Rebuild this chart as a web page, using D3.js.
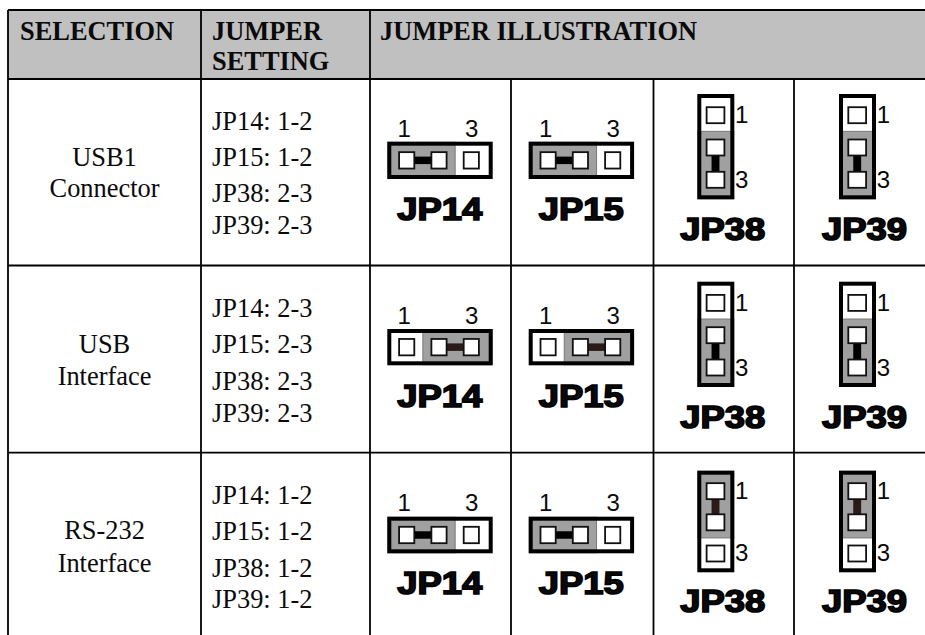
<!DOCTYPE html>
<html>
<head>
<meta charset="utf-8">
<title>Jumper settings</title>
<script src="https://cdnjs.cloudflare.com/ajax/libs/d3/7.8.5/d3.min.js"></script>
<style>
  html, body { margin: 0; padding: 0; background: #fff; overflow: hidden; }
  svg { display: block; }
  .serif { font-family: "Liberation Serif", serif; fill: #0a0a0a; }
  .sans { font-family: "Liberation Sans", sans-serif; fill: #0a0a0a; }
</style>
</head>
<body>
<div id="chart"></div>
<script>
// table content
const headers = ["SELECTION", ["JUMPER", "SETTING"], "JUMPER ILLUSTRATION"];
const selections = [["USB1", "Connector"], ["USB", "Interface"], ["RS-232", "Interface"]];
const jumperNames = ["JP14", "JP15", "JP38", "JP39"];
const jumperOrient = ["h", "h", "v", "v"];
const rowSettings = [
  ["1-2", "1-2", "2-3", "2-3"],
  ["2-3", "2-3", "2-3", "2-3"],
  ["1-2", "1-2", "1-2", "1-2"]
];
const pins = [1, 2, 3];

const width = 925, height = 635;
const svg = d3.select("#chart").append("svg")
  .attr("width", width)
  .attr("height", height);

const colEdges = [8, 201, 370, 511, 653.5, 794];
const rowEdges = [10, 79, 265.5, 452.7];
const settingBase = [[130, 165.7, 202.3, 234.3], [317.3, 353.3, 390, 421.7], [504.3, 540, 576.7, 608.3]];
const selectionBase = [[166, 197.3], [352.7, 385], [539.3, 571.7]];
const hBox = [{top: 141.7, h: 37.3, num: 136.7, name: 220}, {top: 329, h: 36.3, num: 324, name: 406.7}, {top: 516.7, h: 36.6, num: 511, name: 594.3}];
const vBox = [{top: 94, h: 105.3, name: 240}, {top: 281.7, h: 105.3, name: 428.3}, {top: 470.7, h: 101.6, name: 612.3}];
const boxLeft = [387.3, 528.7, 697.3, 839];

const gridColor = "#000";
const grey = "#a0a0a0";
const headGrey = "#c0c0c0";
const shortThick = 7.5;
const textSize = 26.4;

svg.append("rect")
  .attr("x", colEdges[0]).attr("y", rowEdges[0])
  .attr("width", width - colEdges[0]).attr("height", rowEdges[1] - rowEdges[0])
  .attr("fill", headGrey);

// grid lines
svg.selectAll(".hline").data(rowEdges).enter().append("line")
  .attr("x1", colEdges[0]).attr("x2", width)
  .attr("y1", d => d).attr("y2", d => d)
  .attr("stroke", gridColor).attr("stroke-width", 1.8);

svg.selectAll(".vline").data(colEdges).enter().append("line")
  .attr("x1", d => d).attr("x2", d => d)
  .attr("y1", (d, i) => i < 3 ? rowEdges[0] : rowEdges[1])
  .attr("y2", height)
  .attr("stroke", gridColor).attr("stroke-width", 1.8);

// header text
const head = svg.append("g").attr("class", "serif")
  .attr("font-size", textSize).attr("font-weight", "bold");
head.append("text").attr("x", 20).attr("y", 39.5).text(headers[0]);
head.selectAll(".h2").data(headers[1]).enter().append("text")
  .attr("x", 212).attr("y", (d, i) => i === 0 ? 39.5 : 70).text(d => d);
head.append("text").attr("x", 380).attr("y", 39.5).text(headers[2]);

selections.forEach((sel, r) => {
  svg.append("g").attr("class", "serif").attr("font-size", textSize)
    .attr("text-anchor", "middle")
    .selectAll("text").data(sel).enter().append("text")
    .attr("x", 104.5)
    .attr("y", (d, i) => selectionBase[r][i])
    .text(d => d);

  svg.append("g").attr("class", "serif").attr("font-size", textSize)
    .selectAll("text").data(rowSettings[r]).enter().append("text")
    .attr("x", 212)
    .attr("y", (d, i) => settingBase[r][i])
    .text((d, i) => jumperNames[i] + ": " + d);

  jumperNames.forEach((name, j) => {
    if (jumperOrient[j] === "h") drawH(r, j, name, rowSettings[r][j]);
    else drawV(r, j, name, rowSettings[r][j]);
  });
});

function shortColor(r, orient) {
  // the scan has the link a bit brown in some of the cells
  return (orient === "h" && r === 1) || (orient === "v" && r === 2) ? "#2a1a18" : "#000";
}

function shorted(setting) {
  return setting.split("-").map(Number);
}

function drawBody(g, x, y, w, h, greyRect) {
  g.append("rect").attr("x", x).attr("y", y).attr("width", w).attr("height", h)
    .attr("fill", "#fff");
  g.append("rect").attr("x", greyRect.x).attr("y", greyRect.y)
    .attr("width", greyRect.w).attr("height", greyRect.h)
    .attr("fill", grey);
}

function heavyLabel(g, name, cx, base) {
  g.append("text")
    .attr("class", "sans")
    .attr("x", cx).attr("y", base)
    .attr("text-anchor", "middle")
    .attr("font-size", 31).attr("font-weight", "bold")
    .attr("stroke", "#000").attr("stroke-width", 1.6)
    .attr("textLength", 85).attr("lengthAdjust", "spacingAndGlyphs")
    .text(name);
}

function drawH(r, j, name, setting) {
  const b = hBox[r], x0 = boxLeft[j], w = 105.4;
  const g = svg.append("g");
  const px = d3.scalePoint().domain(pins).range([x0 + 19.4, x0 + 84]);
  const on = shorted(setting);
  const off = pins.find(p => !on.includes(p));
  const split = (px(2) + px(off)) / 2;
  const gr = off === 3
    ? {x: x0, y: b.top, w: split - x0, h: b.h}
    : {x: split, y: b.top, w: x0 + w - split, h: b.h};
  drawBody(g, x0, b.top, w, b.h, gr);
  g.append("line").attr("x1", split).attr("x2", split)
    .attr("y1", b.top).attr("y2", b.top + b.h)
    .attr("stroke", "#777").attr("stroke-width", 1);
  g.append("rect").attr("x", x0 + 2).attr("y", b.top + 2)
    .attr("width", w - 4).attr("height", b.h - 4)
    .attr("fill", "none").attr("stroke", "#000").attr("stroke-width", 4);
  const py = b.top + b.h / 2;
  g.append("rect")
    .attr("x", px(on[0])).attr("width", px(on[1]) - px(on[0]))
    .attr("y", py - shortThick / 2).attr("height", shortThick)
    .attr("fill", shortColor(r, "h"));
  g.selectAll(".pin").data(pins).enter().append("rect")
    .attr("x", d => px(d) - 7.6).attr("y", py - 8.2)
    .attr("width", 15.2).attr("height", 16.4)
    .attr("fill", "#fff").attr("stroke", "#111").attr("stroke-width", 1.8);
  g.selectAll(".num").data([1, 3]).enter().append("text")
    .attr("class", "sans")
    .attr("x", d => px(d) + (d === 1 ? -2.5 : 0.4)).attr("y", b.num)
    .attr("text-anchor", "middle").attr("font-size", 24)
    .text(d => d);
  heavyLabel(g, name, x0 + 52.5, b.name);
}

function drawV(r, j, name, setting) {
  const b = vBox[r], x0 = boxLeft[j], w = 37;
  const g = svg.append("g");
  const scaleH = b.h / 105.3;
  const py = d3.scalePoint().domain(pins).range([b.top + 21.2 * scaleH, b.top + 85.8 * scaleH]);
  const on = shorted(setting);
  const off = pins.find(p => !on.includes(p));
  const split = (py(2) + py(off)) / 2;
  const gr = off === 1
    ? {x: x0, y: split, w: w, h: b.top + b.h - split}
    : {x: x0, y: b.top, w: w, h: split - b.top};
  drawBody(g, x0, b.top, w, b.h, gr);
  g.append("line").attr("y1", split).attr("y2", split)
    .attr("x1", x0).attr("x2", x0 + w)
    .attr("stroke", "#777").attr("stroke-width", 1);
  g.append("rect").attr("x", x0 + 2).attr("y", b.top + 2)
    .attr("width", w - 4).attr("height", b.h - 4)
    .attr("fill", "none").attr("stroke", "#000").attr("stroke-width", 4);
  const cx = x0 + w / 2 - 0.3;
  g.append("rect")
    .attr("y", py(on[0])).attr("height", py(on[1]) - py(on[0]))
    .attr("x", cx - shortThick / 2 - 0.2).attr("width", shortThick + 0.4)
    .attr("fill", shortColor(r, "v"));
  g.selectAll(".pin").data(pins).enter().append("rect")
    .attr("x", cx - 8.9).attr("y", d => py(d) - 8)
    .attr("width", 17.8).attr("height", 16)
    .attr("fill", "#fff").attr("stroke", "#111").attr("stroke-width", 1.8);
  g.selectAll(".num").data([1, 3]).enter().append("text")
    .attr("class", "sans")
    .attr("x", x0 + w + 7.5).attr("y", d => py(d) + 8)
    .attr("text-anchor", "middle").attr("font-size", 24)
    .text(d => d);
  heavyLabel(g, name, x0 + 25.5, b.name);
}
</script>
</body>
</html>
